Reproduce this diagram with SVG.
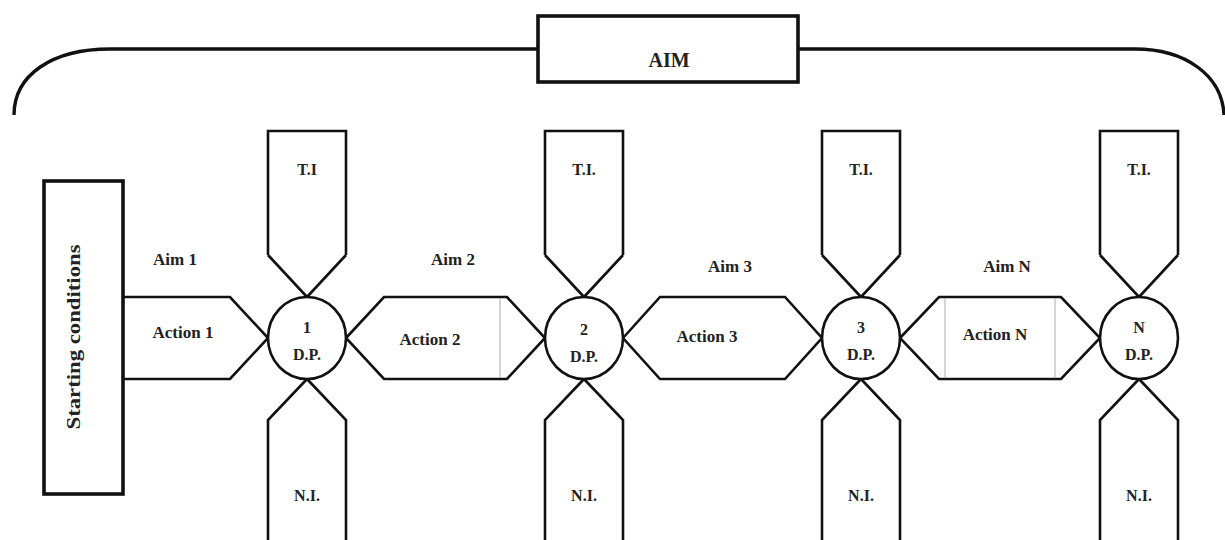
<svg xmlns="http://www.w3.org/2000/svg" width="1225" height="540" viewBox="0 0 1225 540">
<style>
.bg{fill:#ffffff}
.sh{fill:#ffffff;stroke:#111;stroke-width:2.6;stroke-linejoin:miter}
.ln{fill:none;stroke:#111;stroke-width:2.6}
.thick{fill:#ffffff;stroke:#111;stroke-width:3.6}
.curve{fill:none;stroke:#111;stroke-width:3.4}
.faint{stroke:#aaa;stroke-width:1}
.t{font-family:"Liberation Serif","Times New Roman",serif;font-weight:bold;font-size:17px;fill:#222;text-anchor:middle}
.s{font-size:16px}
</style>
<rect class="bg" x="0" y="0" width="1225" height="540"/>
<g id="connectors">
  <path class="curve" d="M14,115 C14,75 52,49 110,49 L538,49"/>
  <path class="curve" d="M798,49 L1135,49 C1185,49 1222,75 1224,115"/>
  <path class="ln" d="M123,297 L230,297 L268,338 L230,379 L123,379"/>
  <polygon class="sh" points="346,338 384,297 507,297 545,338 507,379 384,379"/>
  <line class="faint" x1="500" y1="298" x2="500" y2="378"/>
  <polygon class="sh" points="623,338 660,297 785,297 822,338 785,379 660,379"/>
  <polygon class="sh" points="900,338 939,297 1061,297 1100,338 1061,379 939,379"/>
  <line class="faint" x1="945" y1="298" x2="945" y2="378"/>
  <line class="faint" x1="1055" y1="298" x2="1055" y2="378"/>
  <text class="t" x="175" y="265">Aim 1</text>
  <text class="t" x="183" y="338">Action 1</text>
  <text class="t" x="453" y="265">Aim 2</text>
  <text class="t" x="430" y="345">Action 2</text>
  <text class="t" x="730" y="272">Aim 3</text>
  <text class="t" x="707" y="342">Action 3</text>
  <text class="t" x="1007" y="272">Aim N</text>
  <text class="t" x="995" y="340">Action N</text>
</g>
<g id="aim">
  <rect class="thick" x="538" y="16" width="260" height="66"/>
  <text class="t" x="669" y="67" style="font-size:20px">AIM</text>
</g>
<g id="start">
  <rect class="thick" x="44" y="181" width="79" height="313"/>
  <text class="t" transform="translate(80,337) rotate(-90)" textLength="185" lengthAdjust="spacingAndGlyphs" style="font-size:18px">Starting conditions</text>
</g>
<g id="dp1">
  <path class="ln" d="M268,255 L268,131 L346,131 L346,255 M268,255 L307,297 L346,255"/>
  <path class="ln" d="M268,540 L268,420 L307,379 L346,420 L346,540"/>
  <ellipse class="sh" cx="307" cy="338" rx="39" ry="41"/>
  <text class="t s" x="307" y="175">T.I</text>
  <text class="t s" x="307" y="501">N.I.</text>
  <text class="t s" x="307" y="333">1</text>
  <text class="t s" x="307" y="360">D.P.</text>
</g>
<g id="dp2">
  <path class="ln" d="M545,255 L545,131 L623,131 L623,255 M545,255 L584,297 L623,255"/>
  <path class="ln" d="M545,540 L545,420 L584,379 L623,420 L623,540"/>
  <ellipse class="sh" cx="584" cy="338" rx="39" ry="41"/>
  <text class="t s" x="584" y="175">T.I.</text>
  <text class="t s" x="584" y="501">N.I.</text>
  <text class="t s" x="584" y="335">2</text>
  <text class="t s" x="584" y="362">D.P.</text>
</g>
<g id="dp3">
  <path class="ln" d="M822,255 L822,131 L900,131 L900,255 M822,255 L861,297 L900,255"/>
  <path class="ln" d="M822,540 L822,420 L861,379 L900,420 L900,540"/>
  <ellipse class="sh" cx="861" cy="338" rx="39" ry="41"/>
  <text class="t s" x="861" y="175">T.I.</text>
  <text class="t s" x="861" y="501">N.I.</text>
  <text class="t s" x="861" y="333">3</text>
  <text class="t s" x="861" y="360">D.P.</text>
</g>
<g id="dpN">
  <path class="ln" d="M1100,255 L1100,131 L1178,131 L1178,255 M1100,255 L1139,297 L1178,255"/>
  <path class="ln" d="M1100,540 L1100,420 L1139,379 L1178,420 L1178,540"/>
  <ellipse class="sh" cx="1139" cy="338" rx="39" ry="41"/>
  <text class="t s" x="1139" y="175">T.I.</text>
  <text class="t s" x="1139" y="501">N.I.</text>
  <text class="t s" x="1139" y="333">N</text>
  <text class="t s" x="1139" y="360">D.P.</text>
</g>
</svg>
